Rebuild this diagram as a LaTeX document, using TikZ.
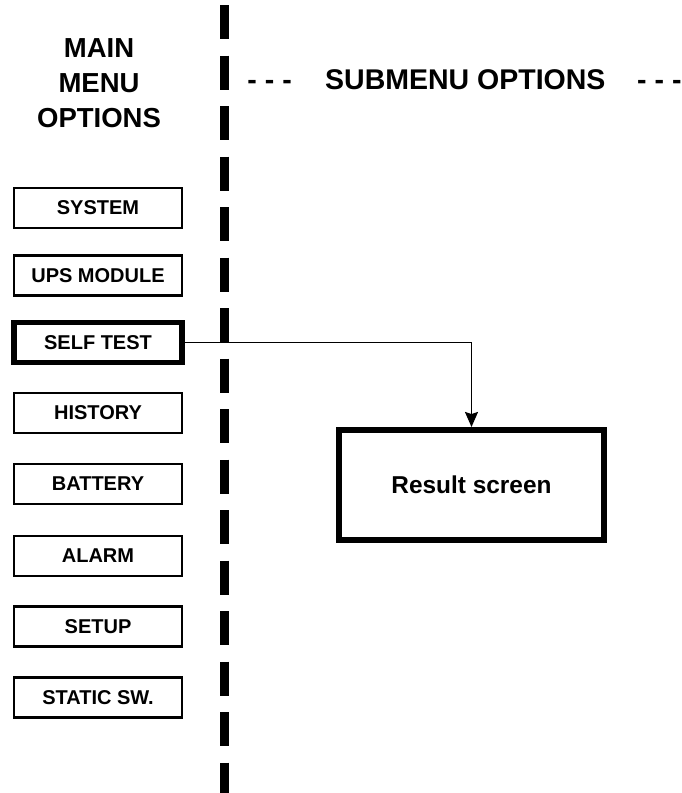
\documentclass[tikz,border=0pt]{standalone}
\usepackage{fontspec}
\setmainfont{Liberation Sans}
\usetikzlibrary{arrows.meta}

\tikzset{
  menubox/.style={draw, line width=2.6pt, minimum width=168pt, minimum height=40pt,
    inner sep=0pt, font=\fontsize{20}{24}\selectfont\bfseries},
  activebox/.style={menubox, line width=5.5pt},
  resultbox/.style={draw, line width=6pt, minimum width=265pt, minimum height=110pt,
    inner sep=0pt, font=\fontsize{24.4}{28}\selectfont\bfseries},
  headtext/.style={inner sep=0pt, font=\fontsize{27.5}{35}\selectfont\bfseries},
  subtext/.style={inner sep=0pt, font=\fontsize{28.5}{35}\selectfont\bfseries}
}

\begin{document}
\begin{tikzpicture}[x=1pt,y=-1pt]
\useasboundingbox (0,0) rectangle (681,793);

% divider
\draw[line width=9pt, dash pattern=on 34pt off 16.5pt] (224,5) -- (224,800);

\node[headtext, align=center] (mainhead) at (99,83) {MAIN\\MENU\\OPTIONS};
\node[subtext, anchor=base west] (subhead) at (325,89) {SUBMENU OPTIONS};
\node[subtext, anchor=base east] (dashl) at (292,89) {- - -};
\node[subtext, anchor=base west] (dashr) at (637,89) {- - -};

\node[menubox] (system) at (98,208) {SYSTEM};
\node[menubox] (ups) at (98,275.5) {UPS MODULE};
\node[activebox] (selftest) at (98,342.5) {SELF TEST};
\node[menubox] (history) at (98,413) {HISTORY};
\node[menubox] (battery) at (98,484) {BATTERY};
\node[menubox] (alarm) at (98,556) {ALARM};
\node[menubox] (setup) at (98,626.5) {SETUP};
\node[menubox] (staticsw) at (98,697.5) {STATIC SW.};

\node[resultbox] (result) at (471.5,485) {Result screen};

\draw[line width=1.5pt, -{Stealth[length=15pt, width=13pt, inset=2pt]}]
  (selftest.east) -| (result.north);
\end{tikzpicture}
\end{document}
